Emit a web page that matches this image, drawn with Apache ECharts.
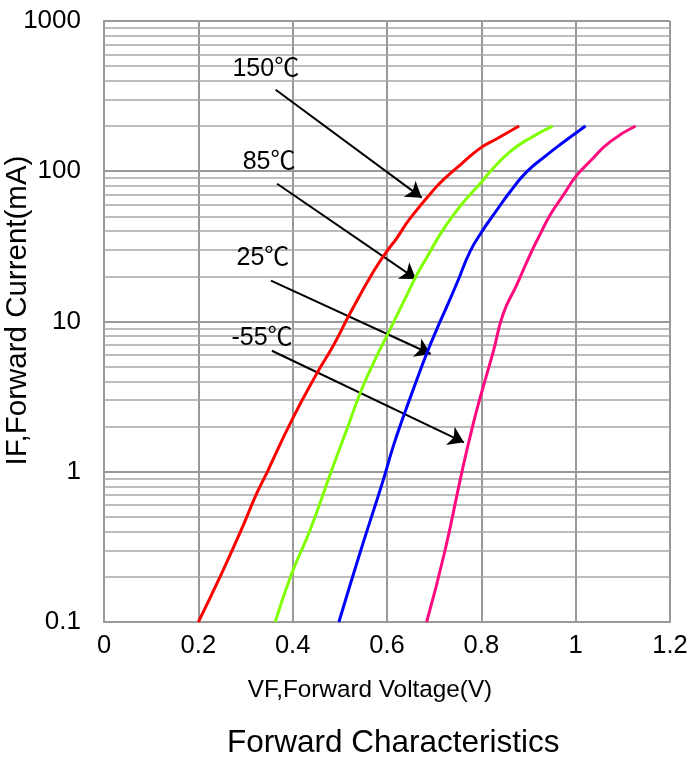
<!DOCTYPE html>
<html>
<head>
<meta charset="utf-8">
<script src="https://cdn.jsdelivr.net/npm/echarts@6/dist/echarts.min.js"></script>
<style>
html,body{margin:0;padding:0;background:#fff;}
#chart{width:691px;height:760px;}
</style>
</head>
<body>
<div id="chart"></div>
<script>
// ---- data ----
var xTicks = [0, 0.2, 0.4, 0.6, 0.8, 1, 1.2];
var yTickLabels = ['0.1', '1', '10', '100', '1000'];
var yMinorLines = [0.2,0.3,0.4,0.5,0.6,0.7,0.8,0.9, 2,3,4,5,6,7,8,9, 20,30,40,50,60,70,80,90, 200,300,400,500,600,700,800,900];

var curve150 = [[0.2,0.1],[0.246,0.2],[0.288,0.39],[0.324,0.72],[0.345,0.98],[0.398,2.2],[0.451,4.5],[0.486,6.9],[0.5215,11.3],[0.571,21.4],[0.5993,29.2],[0.6205,35.8],[0.649,48.6],[0.705,79],[0.7265,92],[0.755,110],[0.797,142],[0.832,164],[0.880,200]];
var curve85 = [[0.363,0.1],[0.398,0.21],[0.437,0.41],[0.483,1.03],[0.5145,1.9],[0.543,3.33],[0.571,5.27],[0.606,8.8],[0.649,16.6],[0.663,20.4],[0.6875,27.7],[0.712,37.7],[0.7405,51],[0.769,66],[0.801,85],[0.818,99],[0.861,135],[0.903,166],[0.951,200]];
var curve25 = [[0.498,0.1],[0.543,0.29],[0.592,0.88],[0.613,1.47],[0.6346,2.32],[0.663,4.08],[0.684,6.1],[0.705,8.8],[0.7265,12.5],[0.751,18.9],[0.776,29.2],[0.801,39.6],[0.8253,51],[0.861,73],[0.896,99],[0.9385,128],[0.9667,150],[1.021,200]];
var curveM55 = [[0.684,0.1],[0.722,0.29],[0.7583,0.98],[0.783,2.1],[0.804,3.68],[0.8253,6.3],[0.8466,11.3],[0.875,17.5],[0.903,27.7],[0.924,37.7],[0.9455,51],[0.974,69.5],[1.0,92],[1.030,116],[1.0727,157],[1.127,200]];

var annoLabels = ['150℃', '85℃', '25℃', '-55℃'];
var annoLabelPos = [[0.343,480],[0.350,115],[0.337,26.5],[0.335,7.76]];
var arrowStart = [[0.364,349],[0.367,82.6],[0.354,18.7],[0.356,6.39]];
var arrowEnd = [[0.6735,66.7],[0.6614,19.2],[0.6926,6.08],[0.763,1.57]];

var seriesColors = ['#ff0000', '#80ff00', '#0000ff', '#ff0a7f'];
var seriesNames = ['150℃', '85℃', '25℃', '-55℃'];
var curves = [curve150, curve85, curve25, curveM55];

// ---- chart ----
var FONT = 'Arial, "Liberation Sans", "Noto Sans CJK SC", sans-serif';
var chart = echarts.init(document.getElementById('chart'), null, {renderer: 'canvas'});

var series = curves.map(function (c, i) {
  return {
    name: seriesNames[i], type: 'line', data: c, showSymbol: false, smooth: 0.5,
    lineStyle: {color: seriesColors[i], width: 3}, z: 5, silent: true
  };
});

series.push({
  name: 'minor', type: 'line', data: [], silent: true,
  markLine: {
    silent: true, symbol: ['none', 'none'], animation: false,
    label: {show: false},
    lineStyle: {color: '#a6a6a6', width: 1.6, type: 'solid'},
    data: yMinorLines.map(function (v) { return {yAxis: v}; })
  },
  z: 1
});

series.push({
  name: 'annot', type: 'scatter', symbolSize: 0, silent: true, z: 10,
  itemStyle: {opacity: 1},
  data: annoLabelPos.map(function (p, i) { return {value: p, name: annoLabels[i]}; }),
  label: {
    show: true, position: 'inside', formatter: '{b}', opacity: 1,
    color: '#000', fontSize: 25, fontFamily: FONT, textBorderWidth: 0
  },
  markLine: {
    silent: true, animation: false,
    symbol: ['none', 'arrow'], symbolSize: 15,
    label: {show: false},
    lineStyle: {color: '#000', width: 2, type: 'solid', opacity: 1},
    data: arrowStart.map(function (s, i) {
      return [{coord: s}, {coord: arrowEnd[i]}];
    })
  }
});

chart.setOption({
  animation: false,
  backgroundColor: '#fff',
  title: {
    text: 'Forward Characteristics', left: 222, top: 723,
    textStyle: {fontSize: 31.5, fontWeight: 'normal', color: '#000', fontFamily: FONT}
  },
  grid: {left: 104, top: 21, width: 566, height: 601, containLabel: false, outerBoundsMode: 'none'},
  xAxis: {
    type: 'value', min: 0, max: 1.2, interval: 0.2,
    name: 'VF,Forward Voltage(V)', nameLocation: 'middle', nameGap: 56, nameMoveOverlap: false,
    nameTextStyle: {fontSize: 24.3, color: '#000', fontFamily: FONT, padding: [0, 34, 0, 0]},
    axisLine: {show: true, lineStyle: {color: '#999', width: 2}},
    axisTick: {show: false},
    axisLabel: {
      fontSize: 25.5, color: '#000', fontFamily: FONT, margin: 11,
      formatter: function (v) {
        for (var i = 0; i < xTicks.length; i++) if (Math.abs(xTicks[i] - v) < 1e-6) return String(xTicks[i]);
        return '';
      }
    },
    splitLine: {show: true, lineStyle: {color: '#999', width: 2}}
  },
  yAxis: {
    type: 'log', logBase: 10, min: 0.1, max: 1000,
    name: 'IF,Forward Current(mA)', nameLocation: 'middle', nameGap: 71, nameMoveOverlap: false,
    nameTextStyle: {fontSize: 29.5, color: '#000', fontFamily: FONT, padding: [0, 0, 0, 22]},
    axisLine: {show: true, lineStyle: {color: '#999', width: 2}},
    axisTick: {show: false},
    axisLabel: {
      fontSize: 26, color: '#000', fontFamily: FONT, margin: 23,
      formatter: function (v) {
        var idx = Math.round(Math.log10(v) + 1);
        return yTickLabels[idx] !== undefined ? yTickLabels[idx] : '';
      }
    },
    splitLine: {show: true, lineStyle: {color: '#999', width: 2}}
  },
  series: series
});
</script>
</body>
</html>
